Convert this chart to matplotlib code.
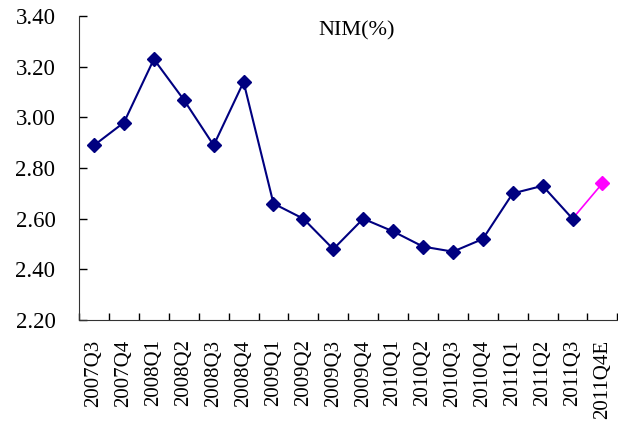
import matplotlib.pyplot as plt
import numpy as np

quarters = ["2007Q3", "2007Q4", "2008Q1", "2008Q2", "2008Q3", "2008Q4",
            "2009Q1", "2009Q2", "2009Q3", "2009Q4", "2010Q1", "2010Q2",
            "2010Q3", "2010Q4", "2011Q1", "2011Q2", "2011Q3", "2011Q4E"]
nim = [2.89, 2.98, 3.23, 3.07, 2.89, 3.14, 2.66, 2.60, 2.48, 2.60,
       2.55, 2.49, 2.47, 2.52, 2.70, 2.73, 2.60]
nim_forecast = 2.74
y_ticks = [2.20, 2.40, 2.60, 2.80, 3.00, 3.20, 3.40]

SERIF = ["Liberation Serif", "DejaVu Serif"]
NAVY = "#000080"
MAGENTA = "#FF00FF"


def main():
    fig = plt.figure(figsize=(6.18, 4.25), dpi=100)
    ax = fig.add_axes([0.128, 0.247, 0.871, 0.715])

    x = np.arange(len(quarters))
    n = len(nim)

    # estimate segment first so the last actual marker sits on top
    ax.plot([x[n - 1], x[n]], [nim[-1], nim_forecast], color=MAGENTA,
            lw=1.2, zorder=2)
    ax.plot(x[n], nim_forecast, marker="D", ms=7.4, color=MAGENTA,
            lw=0, zorder=3)
    ax.plot(x[:n], nim, color=NAVY, lw=1.5, marker="D", ms=7.4, zorder=4)

    ax.set_xlim(-0.5, len(quarters) - 0.5)
    ax.set_ylim(2.20, 3.40)
    ax.set_yticks(y_ticks)
    ax.set_yticklabels([f"{v:.2f}" for v in y_ticks], family=SERIF,
                       fontsize=16.5)
    ax.set_xticks(x)
    ax.set_xticklabels(quarters, rotation=90, family=SERIF, fontsize=15,
                       va="top")
    ax.set_xticks(np.arange(len(quarters) + 1) - 0.5, minor=True)

    ax.tick_params(axis="y", direction="in", length=6, width=1, pad=17)
    ax.tick_params(axis="x", which="major", length=0, pad=14)
    ax.tick_params(axis="x", which="minor", direction="in", length=5,
                   width=1)

    for side in ("top", "right"):
        ax.spines[side].set_visible(False)
    ax.spines["left"].set_color("#333333")
    ax.spines["bottom"].set_color("#333333")

    ax.text(0.516, 0.95, "NIM(%)", transform=ax.transAxes, ha="center",
            va="center", family=SERIF, fontsize=16)

    fig.savefig("out.png", dpi=100)


if __name__ == "__main__":
    main()
